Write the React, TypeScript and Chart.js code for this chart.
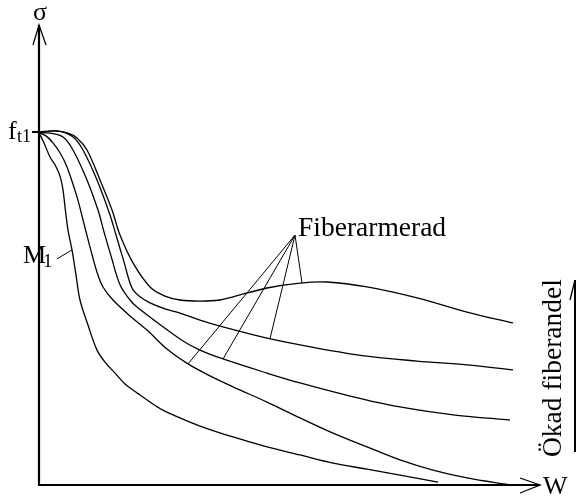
import { useEffect, useRef } from "react";
import { Chart, registerables } from "chart.js";

Chart.register(...registerables);

// w (crack opening, arbitrary units) and sigma / f_t1 for each curve
const wM1 = [0, 0.05, 0.11, 0.16, 0.21, 0.24, 0.26, 0.29, 0.33, 0.37, 0.41, 0.49, 0.58, 0.66, 0.76, 0.86, 0.98, 1.11, 1.24, 1.41, 1.61, 1.94, 2.28, 2.61, 2.94, 3.28, 3.61, 3.99];
const sM1 = [0.997, 0.969, 0.929, 0.907, 0.875, 0.836, 0.788, 0.722, 0.666, 0.595, 0.524, 0.453, 0.382, 0.348, 0.317, 0.286, 0.261, 0.235, 0.212, 0.19, 0.167, 0.136, 0.108, 0.085, 0.062, 0.045, 0.028, 0.008];

const wF1 = [0, 0.07, 0.14, 0.21, 0.28, 0.38, 0.44, 0.51, 0.58, 0.64, 0.74, 0.91, 1.08, 1.28, 1.49, 1.71, 1.94, 2.28, 2.61, 2.94, 3.28, 3.61, 3.94, 4.28, 4.71];
const sF1 = [0.997, 0.989, 0.969, 0.941, 0.901, 0.816, 0.751, 0.674, 0.603, 0.561, 0.524, 0.479, 0.439, 0.385, 0.343, 0.309, 0.278, 0.235, 0.19, 0.147, 0.108, 0.071, 0.042, 0.02, 0];

const wF2 = [0, 0.11, 0.24, 0.34, 0.48, 0.59, 0.65, 0.72, 0.81, 0.91, 0.98, 1.24, 1.44, 1.61, 1.84, 2.28, 2.61, 3.11, 3.61, 4.16, 4.71];
const sF2 = [0.997, 0.997, 0.986, 0.949, 0.864, 0.779, 0.717, 0.649, 0.567, 0.524, 0.504, 0.448, 0.408, 0.382, 0.357, 0.317, 0.289, 0.252, 0.221, 0.198, 0.184];

const wF3 = [0, 0.18, 0.34, 0.44, 0.58, 0.71, 0.77, 0.85, 0.93, 1.01, 1.11, 1.26, 1.41, 1.61, 1.81, 2.28, 2.78, 3.28, 3.78, 4.28, 4.74];
const sF3 = [0.997, 1.003, 0.986, 0.949, 0.864, 0.765, 0.708, 0.632, 0.558, 0.533, 0.516, 0.499, 0.487, 0.467, 0.45, 0.416, 0.388, 0.365, 0.351, 0.34, 0.326];

const wF4 = [0, 0.16, 0.29, 0.38, 0.48, 0.61, 0.73, 0.81, 0.94, 1.11, 1.26, 1.41, 1.61, 1.81, 1.94, 2.28, 2.61, 2.88, 3.28, 3.78, 4.28, 4.74];
const sF4 = [1.0, 1.003, 0.997, 0.983, 0.949, 0.864, 0.779, 0.708, 0.629, 0.561, 0.535, 0.524, 0.521, 0.524, 0.533, 0.558, 0.572, 0.575, 0.561, 0.53, 0.49, 0.459];

// axis extents
const X_MAX = 5.01;
const Y_MAX = 1.303;

// where the "Fiberarmerad" pointers touch the curves (w value on each curve)
const fiberTargets = [
  { w: wF4, s: sF4, at: 2.63 },
  { w: wF3, s: sF3, at: 2.31 },
  { w: wF2, s: sF2, at: 1.84 },
  { w: wF1, s: sF1, at: 1.49 },
];
const fiberOrigin = { w: 2.56, s: 0.708 };
const m1Target = 0.33;

const FONT = '"Liberation Serif", "Times New Roman", serif';

function interp(ws: number[], ss: number[], v: number) {
  for (let i = 0; i < ws.length - 1; i++) {
    if (v >= ws[i] && v <= ws[i + 1]) {
      const t = (v - ws[i]) / (ws[i + 1] - ws[i]);
      return ss[i] + t * (ss[i + 1] - ss[i]);
    }
  }
  return ss[ss.length - 1];
}

const toPts = (ws: number[], ss: number[]) => ws.map((w, i) => ({ x: w, y: ss[i] }));

const decor = {
  id: "decor",
  afterDraw(chart: any) {
    const ctx: CanvasRenderingContext2D = chart.ctx;
    const xs = chart.scales.x;
    const ys = chart.scales.y;
    const X = (v: number) => xs.getPixelForValue(v);
    const Y = (v: number) => ys.getPixelForValue(v);
    const x0 = X(0);
    const y0 = Y(0);
    const xe = X(X_MAX);
    const yt = Y(Y_MAX);
    const seg = (pts: number[][]) => {
      ctx.beginPath();
      ctx.moveTo(pts[0][0], pts[0][1]);
      for (let i = 1; i < pts.length; i++) ctx.lineTo(pts[i][0], pts[i][1]);
      ctx.stroke();
    };
    ctx.save();
    ctx.strokeStyle = "#000";
    ctx.fillStyle = "#000";
    ctx.lineCap = "butt";
    ctx.lineJoin = "miter";

    // axes
    ctx.lineWidth = 2.2;
    seg([[x0, y0 + 1], [x0, yt]]);
    seg([[x0 - 1, y0], [xe, y0]]);
    ctx.lineWidth = 1.3;
    seg([[x0 - 6, yt + 20], [x0, yt], [x0 + 7, yt + 20]]);
    seg([[xe - 20, y0 - 7], [xe, y0], [xe - 20, y0 + 8]]);

    // f_t1 tick
    const yf = Y(1);
    ctx.lineWidth = 2;
    seg([[x0 - 7, yf], [x0, yf]]);

    // Fiberarmerad pointers
    ctx.lineWidth = 1;
    const ox = X(fiberOrigin.w);
    const oy = Y(fiberOrigin.s);
    fiberTargets.forEach((t) => {
      seg([[ox, oy], [X(t.at), Y(interp(t.w, t.s, t.at))]]);
    });

    // M1 pointer
    const mx = X(m1Target);
    const my = Y(interp(wM1, sM1, m1Target));
    seg([[mx - 15, my + 9], [mx, my]]);

    // Increasing fibre content arrow
    ctx.lineWidth = 2;
    const ax = xe + 35;
    seg([[ax, y0 - 33], [ax, y0 - 205]]);
    ctx.lineWidth = 1.3;
    seg([[ax - 5, y0 - 185], [ax, y0 - 205]]);

    // texts
    ctx.textBaseline = "alphabetic";
    ctx.font = `26px ${FONT}`;
    ctx.textAlign = "center";
    ctx.fillText("σ", x0 + 1, yt - 5);
    ctx.textAlign = "left";
    ctx.fillText("W", xe + 3, y0 + 9);

    // f_t1
    ctx.font = `26px ${FONT}`;
    ctx.fillText("f", x0 - 31, yf + 7);
    ctx.font = `18px ${FONT}`;
    ctx.fillText("t1", x0 - 22, yf + 10);

    // M1
    ctx.font = `26px ${FONT}`;
    ctx.fillText("M", mx - 49, my + 13);
    ctx.font = `19px ${FONT}`;
    ctx.fillText("1", mx - 29, my + 17);

    // Fiberarmerad
    ctx.font = `27.5px ${FONT}`;
    ctx.fillText("Fiberarmerad", ox + 3, oy + 1);

    // Ökad fiberandel (rotated)
    ctx.save();
    ctx.translate(xe + 21, y0 - 28);
    ctx.rotate(-Math.PI / 2);
    ctx.font = `27.5px ${FONT}`;
    ctx.textAlign = "left";
    ctx.fillText("Ökad fiberandel", 0, 0);
    ctx.restore();

    ctx.restore();
  },
};

export default function App() {
  const ref = useRef<HTMLCanvasElement | null>(null);
  useEffect(() => {
    if (!ref.current) return;
    const mk = (ws: number[], ss: number[]) => ({
      data: toPts(ws, ss),
      showLine: true,
      borderColor: "#000",
      borderWidth: 1.3,
      pointRadius: 0,
      tension: 0.35,
      fill: false,
    });
    const chart = new Chart(ref.current, {
      type: "scatter",
      data: {
        datasets: [mk(wM1, sM1), mk(wF1, sF1), mk(wF2, sF2), mk(wF3, sF3), mk(wF4, sF4)],
      },
      options: {
        animation: false,
        responsive: false,
        devicePixelRatio: 1,
        layout: { padding: { left: 39, right: 36, top: 25, bottom: 12 } },
        plugins: { legend: { display: false }, tooltip: { enabled: false } },
        scales: {
          x: { type: "linear", min: 0, max: X_MAX, display: false },
          y: { type: "linear", min: 0, max: Y_MAX, display: false },
        },
      },
      plugins: [decor],
    });
    return () => chart.destroy();
  }, []);
  return (
    <div style={{ position: "absolute", left: 0, top: 0, width: 576, height: 497, background: "#fff" }}>
      <canvas ref={ref} width={576} height={497} style={{ display: "block" }} />
    </div>
  );
}
